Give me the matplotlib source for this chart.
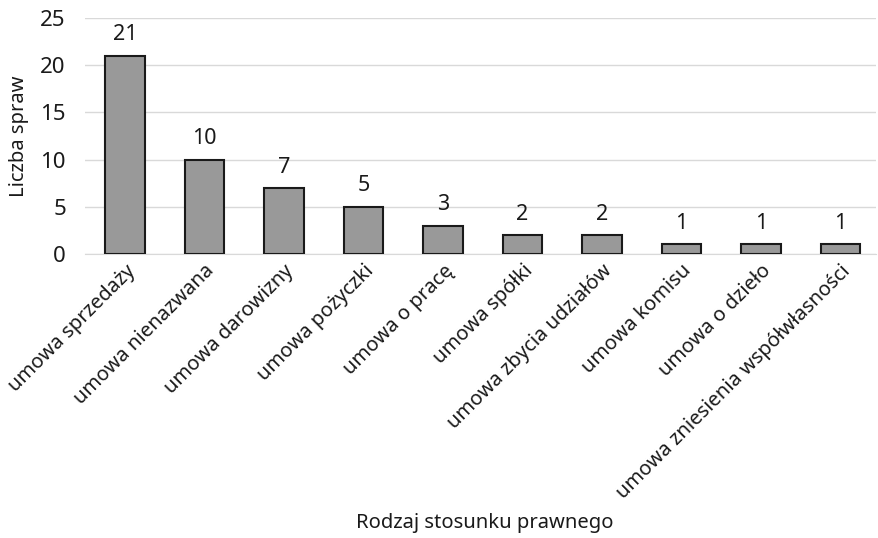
import matplotlib
matplotlib.use("Agg")
import matplotlib.pyplot as plt
from matplotlib.transforms import ScaledTranslation

plt.rcParams['font.family'] = ['Noto Sans', 'DejaVu Sans']

categories = ["umowa sprzedaży", "umowa nienazwana", "umowa darowizny", "umowa pożyczki",
              "umowa o pracę", "umowa spółki", "umowa zbycia udziałów", "umowa komisu",
              "umowa o dzieło", "umowa zniesienia współwłasności"]
values = [21, 10, 7, 5, 3, 2, 2, 1, 1, 1]
yticks = [0, 5, 10, 15, 20, 25]

fig = plt.figure(figsize=(8.79, 5.38), dpi=100)
ax = fig.add_axes([0.097, 0.528, 0.9, 0.4385])
x = range(len(categories))
bars = ax.bar(x, values, width=0.5, color="#999999", edgecolor="#1a1a1a", linewidth=1.5, zorder=3)
for xi, v in zip(x, values):
    ax.text(xi, v + 1.1, str(v), ha='center', va='bottom', fontsize=15.5, color="#1a1a1a")

ax.set_ylim(0, 25)
ax.set_xlim(-0.5, 9.45)
ax.set_yticks(yticks)
ax.set_yticklabels([str(t) for t in yticks], fontsize=16, color="#1a1a1a")
ax.yaxis.grid(True, color="#d9d9d9", linewidth=1, zorder=0)
ax.set_axisbelow(True)
for s in ['top', 'right', 'left']:
    ax.spines[s].set_visible(False)
ax.spines['bottom'].set_color("#d9d9d9")
ax.tick_params(axis='both', length=0)
ax.tick_params(axis='y', pad=14)

ax.set_xticks(list(x))
ax.set_xticklabels(categories, rotation=45, ha='right', rotation_mode='anchor',
                   fontsize=14.5, color="#1a1a1a")
offset = ScaledTranslation(0.12, 0, fig.dpi_scale_trans)
for lbl in ax.get_xticklabels():
    lbl.set_transform(lbl.get_transform() + offset)
ax.tick_params(axis='x', pad=5)

ax.set_ylabel("Liczba spraw", fontsize=14.5, color="#1a1a1a", labelpad=8)
fig.text(0.551, 0.028, "Rodzaj stosunku prawnego", ha='center', va='center', fontsize=14.5, color="#1a1a1a")

fig.savefig("out.png", dpi=100, facecolor="white")
